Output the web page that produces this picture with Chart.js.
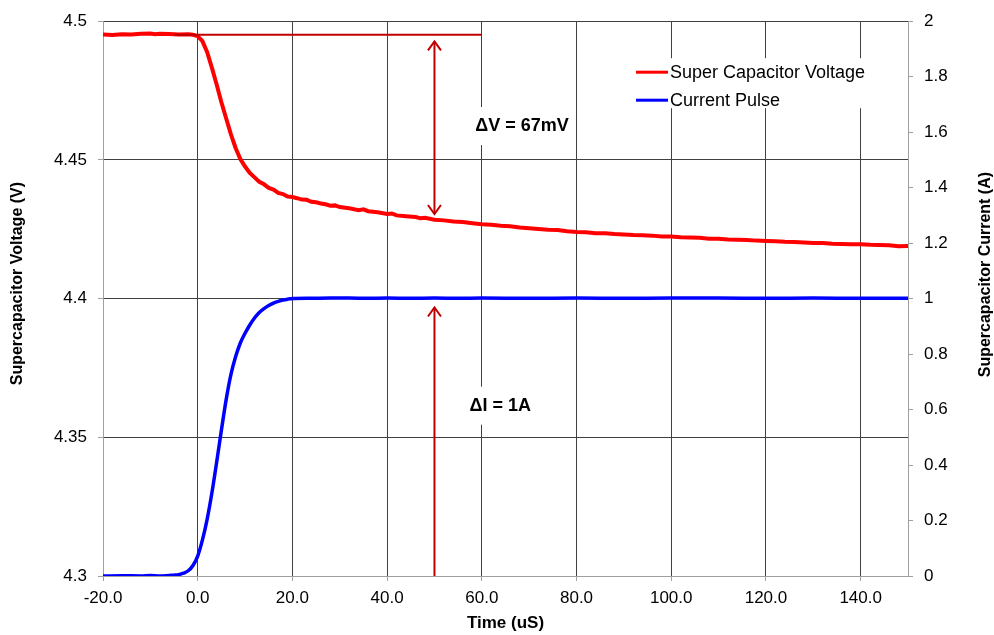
<!DOCTYPE html>
<html>
<head>
<meta charset="utf-8">
<script src="https://cdn.jsdelivr.net/npm/chart.js@4.4.0/dist/chart.umd.min.js"></script>
<style>
  body { margin: 0; background: #fff; }
  #wrap { width: 994px; height: 635px; }
</style>
</head>
<body>
<div id="wrap"><canvas id="chart" width="994" height="635"></canvas></div>
<script>
// time axis (uS) and values
const voltTime = [-20, -18, -16, -14, -12, -10, -9, -8, -6, -4, -2, -1, 0, 1, 2, 3, 4, 5, 6, 7, 8, 9, 10,
    11, 12, 13, 14, 15, 16, 17, 18, 19, 20, 21, 22, 23, 24, 25, 26, 27, 28, 29, 30, 32, 34, 35, 36, 38, 40,
    41, 42, 44, 46, 47, 48, 50, 52, 54, 56, 58, 60, 62, 64, 66, 68, 70, 72, 74, 76, 78, 80, 82, 84, 86, 88,
    90, 92, 94, 96, 98, 100, 102, 104, 106, 108, 110, 112, 114, 116, 118, 120, 122, 124, 126, 128, 130,
    132, 134, 136, 138, 140, 142, 144, 146, 148, 150];
const voltage = [4.4952, 4.4950, 4.4953, 4.4952, 4.4955, 4.4956, 4.4953, 4.4955, 4.4954, 4.4952, 4.4953,
    4.4951, 4.4946, 4.4928, 4.4888, 4.4832, 4.4772, 4.4708, 4.4650, 4.4593, 4.4543, 4.4503, 4.4476,
    4.4453, 4.4437, 4.4421, 4.4412, 4.4399, 4.4393, 4.4381, 4.4377, 4.4368, 4.4366, 4.4362, 4.4357,
    4.4356, 4.4349, 4.4347, 4.4343, 4.4340, 4.4335, 4.4336, 4.4330, 4.4326, 4.4319, 4.4322, 4.4315,
    4.4311, 4.4305, 4.4307, 4.4300, 4.4297, 4.4294, 4.4290, 4.4291, 4.4284, 4.4282, 4.4278, 4.4276,
    4.4272, 4.4268, 4.4266, 4.4263, 4.4261, 4.4256, 4.4254, 4.4251, 4.4248, 4.4247, 4.4243, 4.4240,
    4.4239, 4.4236, 4.4236, 4.4233, 4.4231, 4.4229, 4.4228, 4.4227, 4.4224, 4.4224, 4.4221, 4.4220,
    4.4219, 4.4216, 4.4216, 4.4213, 4.4212, 4.4211, 4.4209, 4.4208, 4.4207, 4.4205, 4.4204, 4.4202,
    4.4200, 4.4200, 4.4198, 4.4197, 4.4196, 4.4196, 4.4194, 4.4193, 4.4192, 4.4189, 4.4190];

const currTime = [-20, -16, -12, -10, -8, -6, -5, -4, -3, -2, -1, 0, 1, 2, 3, 4, 5, 6, 7, 8, 9, 10, 11, 12,
    13, 14, 15, 16, 17, 18, 19, 20, 24, 28, 32, 36, 40, 45, 50, 55, 60, 70, 80, 90, 100, 110, 120, 130, 140, 150];
const current = [0.000, 0.001, 0.000, 0.002, 0.000, 0.002, 0.003, 0.005, 0.010, 0.019, 0.038, 0.072, 0.130,
    0.205, 0.300, 0.410, 0.525, 0.635, 0.725, 0.790, 0.840, 0.875, 0.905, 0.930, 0.950, 0.964, 0.975,
    0.984, 0.990, 0.995, 0.998, 1.000, 1.001, 1.002, 1.002, 1.001, 1.002, 1.001, 1.002, 1.001, 1.002,
    1.001, 1.002, 1.001, 1.002, 1.002, 1.001, 1.002, 1.001, 1.001];

const xTicks = [-20, 0, 20, 40, 60, 80, 100, 120, 140];
const vTicks = [4.3, 4.35, 4.4, 4.45, 4.5];
const iTicks = [0, 0.2, 0.4, 0.6, 0.8, 1, 1.2, 1.4, 1.6, 1.8, 2];

// annotation values
const baseLineT = [-5, 60];
const baseLineV = 4.4951;
const arrowT = 50;
const dvArrowV = [4.4927, 4.4305];
const diArrowI = [0, 0.968];
const dvLabel = 'ΔV = 67mV';
const dvLabelAt = [58.6, 4.4622];
const diLabel = 'ΔI = 1A';
const diLabelAt = [57.4, 0.614];

const FONT = "'Liberation Sans', Arial, sans-serif";
const gridCol = '#404040';
const axisCol = '#a0a0a0';
const annCol = '#c00000';

function arrowHead(ctx, x, y, dir) {
    ctx.beginPath();
    ctx.moveTo(x - 6.5, y + dir * 9);
    ctx.lineTo(x, y);
    ctx.lineTo(x + 6.5, y + dir * 9);
    ctx.stroke();
}

function textBox(ctx, text, x, y) {
    const w = ctx.measureText(text).width;
    ctx.fillStyle = '#fff';
    ctx.fillRect(x - 5, y - 19, w + 10, 38);
    ctx.fillStyle = '#000';
    ctx.fillText(text, x, y);
}

const annotations = {
    id: 'annotations',
    beforeDatasetsDraw(chart) {
        const ctx = chart.ctx;
        const { x, y, y1 } = chart.scales;
        const ca = chart.chartArea;
        ctx.save();
        ctx.textBaseline = 'middle';
        ctx.textAlign = 'left';
        ctx.font = 'bold 18px ' + FONT;
        textBox(ctx, dvLabel, x.getPixelForValue(dvLabelAt[0]), y.getPixelForValue(dvLabelAt[1]));
        textBox(ctx, diLabel, x.getPixelForValue(diLabelAt[0]), y1.getPixelForValue(diLabelAt[1]));

        // legend
        const lx = ca.right - 278, ly = ca.top + 37;
        ctx.fillStyle = '#fff';
        ctx.fillRect(lx, ly, 255, 50);
        ctx.font = '18px ' + FONT;
        chart.data.datasets.forEach((ds, i) => {
            const ry = ly + 14 + i * 28;
            ctx.strokeStyle = ds.borderColor;
            ctx.lineWidth = 3;
            ctx.beginPath();
            ctx.moveTo(lx + 6, ry);
            ctx.lineTo(lx + 38, ry);
            ctx.stroke();
            ctx.fillStyle = '#000';
            ctx.fillText(ds.label, lx + 40, ry + 1);
        });

        // axis titles (both read bottom to top)
        ctx.font = 'bold 16px ' + FONT;
        ctx.textAlign = 'center';
        const cy = (ca.top + ca.bottom) / 2;
        ctx.save();
        ctx.translate(y.left + 18, cy - 15);
        ctx.rotate(-Math.PI / 2);
        ctx.fillText('Supercapacitor Voltage (V)', 0, 0);
        ctx.restore();
        ctx.save();
        ctx.translate(y1.right - 8, cy - 24);
        ctx.rotate(-Math.PI / 2);
        ctx.fillText('Supercapacitor Current (A)', 0, 0);
        ctx.restore();
        ctx.restore();
    },
    afterDatasetsDraw(chart) {
        const ctx = chart.ctx;
        const { x, y, y1 } = chart.scales;
        ctx.save();
        ctx.strokeStyle = annCol;
        ctx.lineWidth = 2;
        const by = y.getPixelForValue(baseLineV);
        ctx.beginPath();
        ctx.moveTo(x.getPixelForValue(baseLineT[0]), by);
        ctx.lineTo(x.getPixelForValue(baseLineT[1]), by);
        ctx.stroke();

        const ax = x.getPixelForValue(arrowT);
        const t0 = y.getPixelForValue(dvArrowV[0]);
        const t1 = y.getPixelForValue(dvArrowV[1]);
        ctx.beginPath();
        ctx.moveTo(ax, t0);
        ctx.lineTo(ax, t1);
        ctx.stroke();
        arrowHead(ctx, ax, t0, 1);
        arrowHead(ctx, ax, t1, -1);

        const i0 = y1.getPixelForValue(diArrowI[0]);
        const i1 = y1.getPixelForValue(diArrowI[1]);
        ctx.beginPath();
        ctx.moveTo(ax, i0);
        ctx.lineTo(ax, i1);
        ctx.stroke();
        arrowHead(ctx, ax, i1, 1);
        ctx.restore();
    }
};

const tickFont = { family: FONT, size: 17 };

new Chart(document.getElementById('chart'), {
    type: 'line',
    data: {
        datasets: [{
            label: 'Super Capacitor Voltage',
            data: voltTime.map((t, i) => ({ x: t, y: voltage[i] })),
            borderColor: '#ff0000',
            borderWidth: 4,
            pointRadius: 0,
            tension: 0,
            yAxisID: 'y'
        }, {
            label: 'Current Pulse',
            data: currTime.map((t, i) => ({ x: t, y: current[i] })),
            borderColor: '#0000ff',
            borderWidth: 3.5,
            pointRadius: 0,
            cubicInterpolationMode: 'monotone',
            yAxisID: 'y1'
        }]
    },
    options: {
        responsive: false,
        devicePixelRatio: 1,
        animation: false,
        layout: { padding: { top: 20, left: 0, right: 0, bottom: 0 } },
        plugins: {
            legend: { display: false },
            tooltip: { enabled: false }
        },
        scales: {
            x: {
                type: 'linear',
                min: -20,
                max: 150,
                afterBuildTicks: s => { s.ticks = xTicks.map(v => ({ value: v })); },
                afterFit: s => { s.height = 59; },
                grid: {
                    color: c => (c.tick && c.tick.value === -20) ? 'rgba(0,0,0,0)' : gridCol,
                    tickColor: axisCol,
                    tickLength: 5
                },
                border: { color: axisCol },
                ticks: { font: tickFont, color: '#000', padding: 7, maxRotation: 0, callback: v => v.toFixed(1) },
                title: {
                    display: true,
                    text: 'Time (uS)',
                    color: '#000',
                    font: { family: FONT, size: 17, weight: 'bold' },
                    padding: { top: 0, bottom: 1 }
                }
            },
            y: {
                position: 'left',
                min: 4.3,
                max: 4.5,
                afterBuildTicks: s => { s.ticks = vTicks.map(v => ({ value: v })); },
                afterFit: s => { s.width = 103; },
                grid: {
                    color: c => (c.tick && c.tick.value === 4.3) ? 'rgba(0,0,0,0)' : gridCol,
                    tickColor: axisCol,
                    tickLength: 5
                },
                border: { color: axisCol },
                ticks: { font: tickFont, color: '#000', padding: 11, callback: v => String(v) }
            },
            y1: {
                position: 'right',
                min: 0,
                max: 2,
                afterBuildTicks: s => { s.ticks = iTicks.map(v => ({ value: v })); },
                afterFit: s => { s.width = 86; },
                grid: { drawOnChartArea: false, color: axisCol, tickLength: 5 },
                border: { color: axisCol },
                ticks: { font: tickFont, color: '#000', padding: 11, callback: v => String(v) }
            }
        }
    },
    plugins: [annotations]
});
</script>
</body>
</html>
